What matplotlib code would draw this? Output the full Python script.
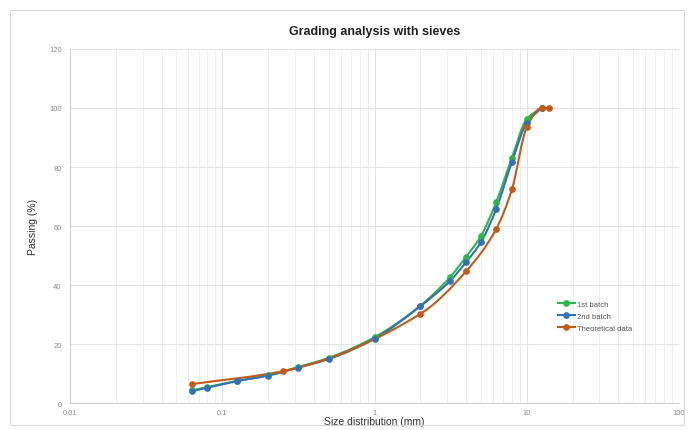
import numpy as np
import matplotlib
matplotlib.use("Agg")
import matplotlib.pyplot as plt
from matplotlib.path import Path
from matplotlib.patches import PathPatch, Rectangle
from matplotlib.lines import Line2D
from matplotlib.ticker import LogLocator, FixedLocator, NullFormatter

plt.rcParams['font.family'] = ['Liberation Sans', 'DejaVu Sans']

# sieve sizes (mm) and passing (%)
batch_sizes = [0.063, 0.08, 0.125, 0.2, 0.315, 0.5, 1, 2, 3.15, 4, 5, 6.3, 8, 10, 12.5]
batch1 = [4.3, 5.4, 7.5, 9.4, 12.2, 15.3, 22.3, 33.0, 42.8, 49.6, 56.6, 68.1, 83.2, 96.3, 100]
batch2 = [4.0, 5.2, 7.4, 9.3, 12.0, 14.9, 21.8, 32.8, 41.5, 47.8, 54.5, 65.8, 81.8, 95.0, 100]

theo_sizes = [0.063, 0.25, 2, 4, 6.3, 8, 10, 12.5, 14]
theo = [6.4, 10.8, 30.2, 44.7, 59.0, 72.5, 93.5, 100, 100]

series_names = ['1st batch', '2nd batch', 'Theoretical data']
colors = ['#2cb84a', '#3470b8', '#c45a16']


def smooth_path(xs, ys):
    # monotone cubic (Fritsch-Carlson) in log-x, written as bezier segments
    lx = np.log10(np.asarray(xs, float))
    y = np.asarray(ys, float)
    h = np.diff(lx)
    d = np.diff(y) / h
    n = len(lx)
    m = np.zeros(n)
    m[0], m[-1] = d[0], d[-1]
    for k in range(1, n - 1):
        if d[k - 1] * d[k] <= 0:
            m[k] = 0
        else:
            w1 = 2 * h[k] + h[k - 1]
            w2 = h[k] + 2 * h[k - 1]
            m[k] = (w1 + w2) / (w1 / d[k - 1] + w2 / d[k])
    verts = [(lx[0], y[0])]
    codes = [Path.MOVETO]
    for k in range(n - 1):
        verts += [(lx[k] + h[k] / 3, y[k] + m[k] * h[k] / 3),
                  (lx[k + 1] - h[k] / 3, y[k + 1] - m[k + 1] * h[k] / 3),
                  (lx[k + 1], y[k + 1])]
        codes += [Path.CURVE4] * 3
    verts = np.array(verts)
    verts[:, 0] = 10 ** verts[:, 0]
    return Path(verts, codes)


fig = plt.figure(figsize=(6.89, 4.31), dpi=100)
fig.patches.append(Rectangle((0.015, 0.012), 0.978, 0.962, transform=fig.transFigure,
                             fill=False, edgecolor='#d9d9d9', linewidth=0.8))
ax = fig.add_axes([0.1016, 0.0626, 0.8839, 0.8214])

ax.set_xscale('log')
ax.set_xlim(0.01, 100)
ax.set_ylim(0, 120)

for (xs, ys), name, c in zip([(batch_sizes, batch1), (batch_sizes, batch2), (theo_sizes, theo)],
                             series_names, colors):
    ax.add_patch(PathPatch(smooth_path(xs, ys), fill=False, edgecolor=c, linewidth=1.5, zorder=3))
    ax.plot(xs, ys, linestyle='none', marker='o', markersize=3.8, color=c, zorder=4)

ax.xaxis.set_major_locator(LogLocator(base=10))
ax.xaxis.set_minor_locator(LogLocator(base=10, subs=np.arange(2, 10)))
ax.xaxis.set_minor_formatter(NullFormatter())
ax.set_xticks([0.01, 0.1, 1, 10, 100])
ax.set_xticklabels(['0.01', '0.1', '1', '10', '100'])
ax.yaxis.set_major_locator(FixedLocator(np.arange(0, 121, 20)))

ax.grid(True, which='major', color='#e3e3e3', linewidth=0.8)
ax.grid(True, which='minor', axis='x', color='#ececec', linewidth=0.6)
ax.set_axisbelow(True)
for s in ['top', 'right']:
    ax.spines[s].set_visible(False)
for s in ['left', 'bottom']:
    ax.spines[s].set_color('#d0d0d0')
    ax.spines[s].set_linewidth(0.8)
ax.tick_params(axis='both', which='both', length=0, labelsize=5.5, labelcolor='#8a8a8a')
ax.tick_params(axis='x', pad=4)
ax.tick_params(axis='y', pad=6)

ax.set_title('Grading analysis with sieves', fontsize=9, fontweight='bold', color='#222222', pad=11)
ax.set_xlabel('Size distribution (mm)', fontsize=7.5, color='#333333', labelpad=0)
ax.set_ylabel('Passing (%)', fontsize=7.5, color='#333333', labelpad=8)

handles = [Line2D([], [], color=c, marker='o', markersize=3.8, linewidth=1.5) for c in colors]
ax.legend(handles, series_names, loc='center left', bbox_to_anchor=(0.79, 0.246), frameon=False,
          fontsize=5.5, handlelength=2.2, handletextpad=0.3, labelspacing=0.6, labelcolor='#555555')

fig.savefig('out.png', dpi=100)
